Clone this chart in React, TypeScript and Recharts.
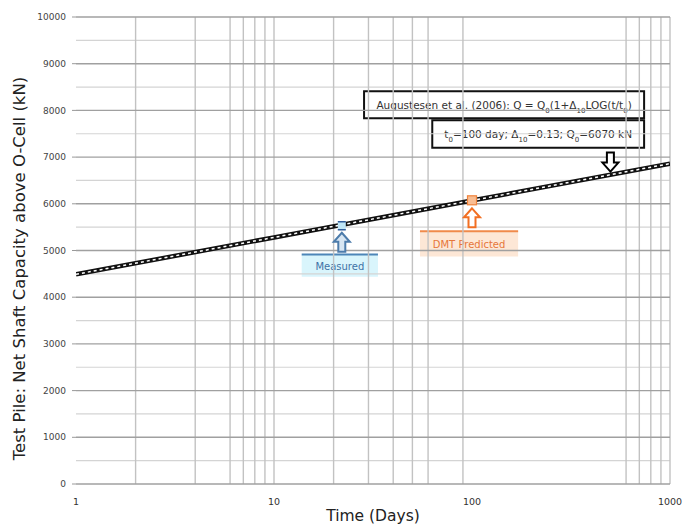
import React from "react";
import {
  ComposedChart,
  Line,
  Scatter,
  XAxis,
  YAxis,
  ReferenceLine,
  ReferenceArea,
  ReferenceDot,
} from "recharts";

// Augustesen fit
const days = [1, 10, 100, 1000];
const capacity = [4490, 5280, 6070, 6860];

const measuredDays = [22];
const measuredQ = [5530];
const dmtDays = [100];
const dmtQ = [6075];

const xTicks = [1, 10, 100, 1000];
const yTicks = [0, 1000, 2000, 3000, 4000, 5000, 6000, 7000, 8000, 9000, 10000];
const yMinor = [500, 1500, 2500, 3500, 4500, 5500, 6500, 7500, 8500, 9500];
const xGrid = [2, 4, 6, 7, 8, 9, 10, 20, 30, 40, 50, 60, 90, 600, 700, 800, 900, 1000];

const lineData = days.map((t, i) => ({ t, q: capacity[i] }));
const measuredData = measuredDays.map((t, i) => ({ t, q: measuredQ[i] }));
const dmtData = dmtDays.map((t, i) => ({ t, q: dmtQ[i] }));

const FONT = "'DejaVu Sans', Verdana, sans-serif";

const UpArrow = ({ cx, cy, stroke, fill }: any) => (
  <path
    d={`M${cx},${cy} L${cx + 8},${cy + 9} L${cx + 3.5},${cy + 9} L${cx + 3.5},${cy + 19} L${cx - 3.5},${cy + 19} L${cx - 3.5},${cy + 9} L${cx - 8},${cy + 9} Z`}
    fill={fill}
    stroke={stroke}
    strokeWidth={2}
  />
);

const DownArrow = ({ cx, cy }: any) => (
  <path
    d={`M${cx},${cy} L${cx + 8},${cy - 9} L${cx + 3.5},${cy - 9} L${cx + 3.5},${cy - 19} L${cx - 3.5},${cy - 19} L${cx - 3.5},${cy - 9} L${cx - 8},${cy - 9} Z`}
    fill="#fff"
    stroke="#000"
    strokeWidth={2}
  />
);

const sub = (s: string) => (
  <tspan baselineShift="sub" fontSize={7}>
    {s}
  </tspan>
);

const boxLabel = (content: (x: number, y: number, w: number, h: number) => React.ReactNode) =>
  ({ viewBox }: any) => content(viewBox.x, viewBox.y, viewBox.width, viewBox.height);

export default function App() {
  return (
    <div style={{ position: "absolute", left: 0, top: 0, background: "#fff" }}>
      <ComposedChart
        width={683}
        height={526}
        margin={{ top: 17, right: 13, bottom: 0, left: 0 }}
      >
        <XAxis
          dataKey="t"
          type="number"
          scale="log"
          domain={[1, 1000]}
          ticks={xTicks}
          allowDataOverflow
          axisLine={false}
          tickLine={false}
          tickMargin={8}
          height={42}
          tick={{ fontSize: 9.5, fill: "#333", fontFamily: FONT }}
          label={{
            value: "Time  (Days)",
            position: "insideBottom",
            offset: 5,
            style: { fontSize: 15.5, fill: "#222", fontFamily: FONT },
          }}
        />
        <YAxis
          dataKey="q"
          type="number"
          domain={[0, 10000]}
          ticks={yTicks}
          width={76}
          axisLine={false}
          tickSize={4}
          tickMargin={6}
          tickLine={{ stroke: "#999" }}
          tick={{ fontSize: 9, fill: "#444", fontFamily: FONT }}
          label={({ viewBox }: any) => (
            <text
              x={0}
              y={0}
              transform={`translate(${viewBox.x + 25},${viewBox.y + viewBox.height / 2 + 18}) rotate(-90)`}
              textAnchor="middle"
              fontSize={16.5}
              fill="#222"
              fontFamily={FONT}
            >
              Test Pile: Net Shaft Capacity above O-Cell (kN)
            </text>
          )}
        />

        {yMinor.map((v) => (
          <ReferenceLine key={"hm" + v} y={v} stroke="#d4d4d4" strokeWidth={1.2} />
        ))}
        {xGrid.map((v) => (
          <ReferenceLine key={"v" + v} x={v} stroke="#c2c2c2" strokeWidth={1.4} />
        ))}
        {yTicks.map((v) => (
          <ReferenceLine key={"h" + v} y={v} stroke="#a0a0a0" strokeWidth={1.4} />
        ))}

        <ReferenceArea
          x1={28.5}
          x2={740}
          y1={7830}
          y2={8410}
          fill="#fff"
          fillOpacity={1}
          stroke="#111"
          strokeWidth={2}
          label={boxLabel((x, y, w, h) => (
            <text x={x + w / 2} y={y + h / 2 + 4} textAnchor="middle" fontSize={10.5} fill="#333" fontFamily={FONT}>
              Augustesen et al. (2006): Q = Q{sub("0")}(1+Δ{sub("10")}LOG(t/t{sub("0")})
            </text>
          ))}
        />
        <ReferenceArea
          x1={63}
          x2={740}
          y1={7200}
          y2={7790}
          fill="#fff"
          fillOpacity={1}
          stroke="#111"
          strokeWidth={2}
          label={boxLabel((x, y, w, h) => (
            <text x={x + w / 2} y={y + h / 2 + 4} textAnchor="middle" fontSize={10.5} fill="#333" fontFamily={FONT}>
              t{sub("0")}=100 day; Δ{sub("10")}=0.13; Q{sub("0")}=6070 kN
            </text>
          ))}
        />

        <ReferenceArea
          x1={13.8}
          x2={33.5}
          y1={4440}
          y2={4914}
          fill="#d9f5fc"
          fillOpacity={1}
          stroke="none"
          label={boxLabel((x, y, w, h) => (
            <g>
              <line x1={x} y1={y} x2={x + w} y2={y} stroke="#4d86b8" strokeWidth={2} />
              <text x={x + w / 2} y={y + h / 2 + 4} textAnchor="middle" fontSize={10} fill="#3f72a6" fontFamily={FONT}>
                Measured
              </text>
            </g>
          ))}
        />
        <ReferenceArea
          x1={54.6}
          x2={171}
          y1={4870}
          y2={5410}
          fill="#fde7d6"
          fillOpacity={1}
          stroke="none"
          label={boxLabel((x, y, w, h) => (
            <g>
              <line x1={x} y1={y} x2={x + w} y2={y} stroke="#f08a4b" strokeWidth={2} />
              <text x={x + w / 2} y={y + h / 2 + 4} textAnchor="middle" fontSize={10} fill="#e6763a" fontFamily={FONT}>
                DMT Predicted
              </text>
            </g>
          ))}
        />

        <Line
          data={lineData}
          dataKey="q"
          stroke="#111"
          strokeWidth={4.5}
          dot={false}
          isAnimationActive={false}
        />
        <Line
          data={lineData}
          dataKey="q"
          stroke="#fff"
          strokeWidth={1.5}
          strokeDasharray="3 3"
          dot={false}
          isAnimationActive={false}
        />

        <Scatter
          data={measuredData}
          dataKey="q"
          isAnimationActive={false}
          shape={({ cx, cy }: any) => (
            <g>
              <rect x={cx - 4} y={cy - 4} width={8} height={8} fill="#bfe6f7" />
              <line x1={cx - 4} y1={cy - 4} x2={cx + 4} y2={cy - 4} stroke="#2f5c9a" strokeWidth={1.5} />
              <line x1={cx - 4} y1={cy + 4} x2={cx + 4} y2={cy + 4} stroke="#2f5c9a" strokeWidth={1.5} />
            </g>
          )}
        />
        <Scatter
          data={dmtData}
          dataKey="q"
          isAnimationActive={false}
          shape={({ cx, cy }: any) => (
            <rect x={cx - 4.5} y={cy - 4.5} width={9} height={9} fill="#f9bd92" stroke="#f0833c" strokeWidth={1.2} />
          )}
        />

        <ReferenceDot
          x={measuredDays[0]}
          y={measuredQ[0]}
          r={0}
          shape={({ cx, cy }: any) => <UpArrow cx={cx} cy={cy + 7} stroke="#4d7cab" fill="#d7e6f3" />}
        />
        <ReferenceDot
          x={dmtDays[0]}
          y={dmtQ[0]}
          r={0}
          shape={({ cx, cy }: any) => <UpArrow cx={cx} cy={cy + 8} stroke="#f26f22" fill="#fff" />}
        />
        <ReferenceDot
          x={500}
          y={6690}
          r={0}
          shape={({ cx, cy }: any) => <DownArrow cx={cx} cy={cy} />}
        />
      </ComposedChart>
    </div>
  );
}
